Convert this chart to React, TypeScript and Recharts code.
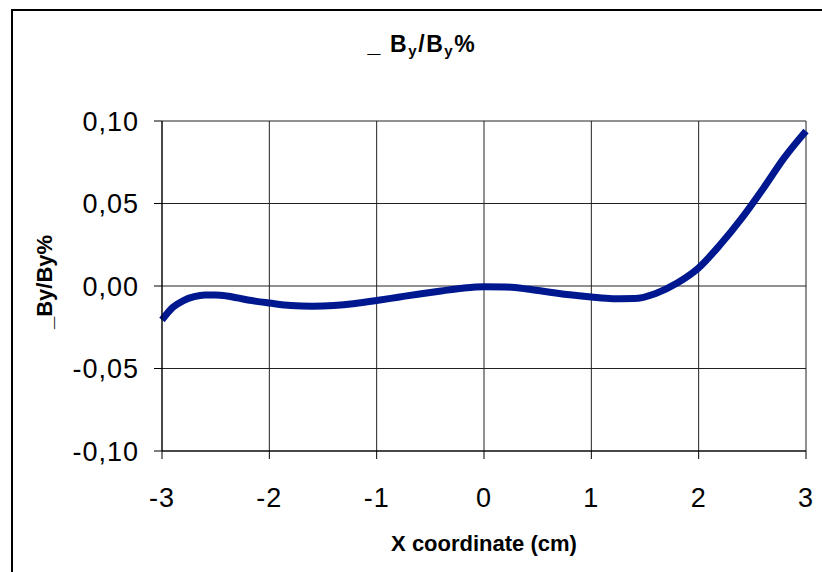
import React from "react";
import { LineChart, Line, XAxis, YAxis, CartesianGrid, Customized, Label } from "recharts";

const xCoords: number[] = [
  -3, -2.9, -2.8, -2.7, -2.6, -2.5, -2.4, -2.2, -2.0, -1.8, -1.6, -1.4, -1.2, -1.0, -0.8, -0.6, -0.4, -0.2,
  0, 0.2, 0.4, 0.6, 0.8, 1.0, 1.2, 1.4, 1.6, 1.8, 2.0, 2.2, 2.4, 2.6, 2.8, 3.0,
];
const byPercent: number[] = [
  -0.0206, -0.013, -0.0088, -0.0065, -0.0055, -0.0055, -0.006, -0.0085, -0.0103, -0.0118, -0.0122, -0.0118,
  -0.0106, -0.0088, -0.0068, -0.0048, -0.003, -0.0013, -0.0004, -0.0006, -0.0018, -0.0036, -0.0053, -0.0067,
  -0.0077, -0.0076, -0.0045, 0.0018, 0.011, 0.025, 0.041, 0.059, 0.078, 0.094,
];
const xTicks: number[] = [-3, -2, -1, 0, 1, 2, 3];
const yTicks: number[] = [-0.1, -0.05, 0, 0.05, 0.1];

const data = xCoords.map((x, i) => ({ x, v: byPercent[i] }));

const FONT = "'Liberation Sans', Arial, sans-serif";
const fmtY = (v: number) => v.toFixed(2).replace(".", ",");

const Title = () => (
  <text x={422} y={52} textAnchor="middle" fontFamily={FONT} fontWeight="bold" fontSize={23} letterSpacing={1.6} fill="#000">
    <tspan>_ B</tspan>
    <tspan fontSize={15} dy={4}>y</tspan>
    <tspan dy={-4}>/B</tspan>
    <tspan fontSize={15} dy={4}>y</tspan>
    <tspan dy={-4}>%</tspan>
  </text>
);

export default function App() {
  return (
    <div style={{ position: "absolute", left: 0, top: 0, width: 822, height: 572, background: "#fff" }}>
      <div
        style={{
          position: "absolute",
          left: 11,
          top: 9,
          width: 830,
          height: 580,
          borderLeft: "2px solid #000",
          borderTop: "2px solid #000",
          boxSizing: "border-box",
        }}
      />
      <div style={{ position: "absolute", left: 0, top: 0 }}>
        <LineChart width={822} height={572} data={data} margin={{ top: 121, right: 16, bottom: 61, left: 42 }}>
          <CartesianGrid stroke="#222" strokeWidth={1} />
          <XAxis
            dataKey="x"
            type="number"
            domain={[-3, 3]}
            ticks={xTicks}
            height={60}
            stroke="#000"
            tickSize={8}
            tickMargin={29}
            tick={{ fill: "#000", fontSize: 27, fontFamily: FONT, letterSpacing: 1 }}
            tickLine={{ stroke: "#000" }}
          >
            <Label
              content={() => (
                <text x={484} y={543} textAnchor="middle" dominantBaseline="central" fontFamily={FONT} fontWeight="bold" fontSize={22} fill="#000">
                  X coordinate (cm)
                </text>
              )}
            />
          </XAxis>
          <YAxis
            type="number"
            domain={[-0.1, 0.1]}
            ticks={yTicks}
            width={120}
            stroke="#000"
            tickSize={8}
            tickMargin={15}
            tickFormatter={fmtY}
            tick={{ fill: "#000", fontSize: 27, fontFamily: FONT, letterSpacing: 1 }}
            tickLine={{ stroke: "#000" }}
          >
            <Label
              content={() => (
                <text
                  x={44}
                  y={282}
                  transform="rotate(-90 44 282)"
                  textAnchor="middle"
                  dominantBaseline="central"
                  fontFamily={FONT}
                  fontWeight="bold"
                  fontSize={22}
                  fill="#000"
                >
                  _By/By%
                </text>
              )}
            />
          </YAxis>
          <Line
            type="monotone"
            dataKey="v"
            stroke="#00188F"
            strokeWidth={7}
            dot={false}
            isAnimationActive={false}
          />
          <Customized component={Title} />
        </LineChart>
      </div>
    </div>
  );
}
